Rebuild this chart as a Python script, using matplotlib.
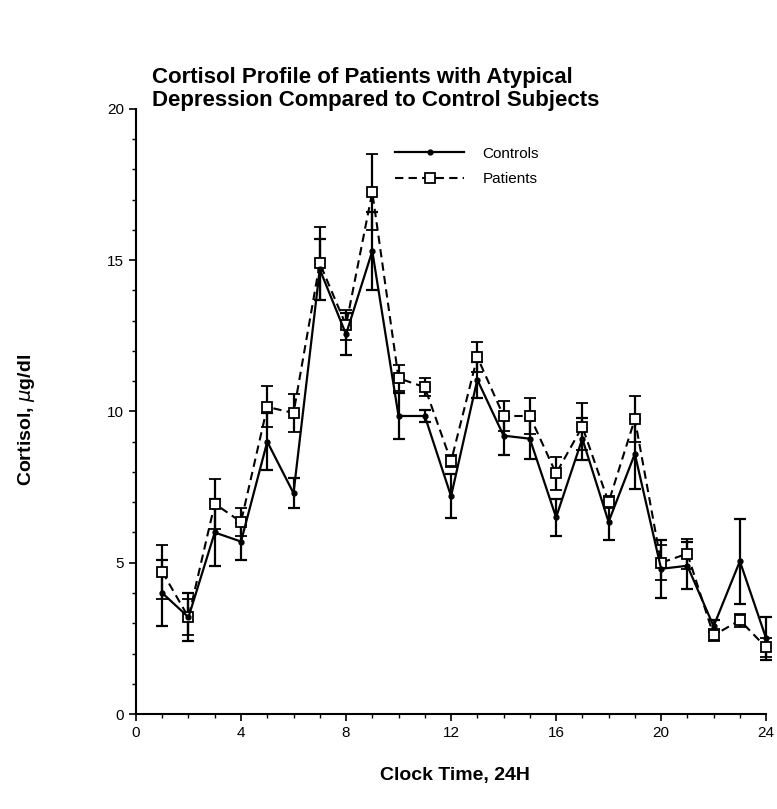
import matplotlib
matplotlib.use('Agg')
import matplotlib.pyplot as plt
from matplotlib.lines import Line2D
from matplotlib.ticker import MultipleLocator

# Hourly cortisol means and error bars (ug/dl)
hours = list(range(1, 25))
controls = [4.0, 3.2, 6.0, 5.7, 9.0, 7.3, 14.7, 12.55, 15.3, 9.85, 9.85, 7.2,
            11.05, 9.2, 9.1, 6.5, 9.1, 6.35, 8.6, 4.8, 4.9, 2.9, 5.05, 2.5]
controls_err = [1.08, 0.8, 1.1, 0.6, 0.95, 0.5, 1.0, 0.7, 1.3, 0.77, 0.2, 0.72,
                0.6, 0.63, 0.66, 0.6, 0.7, 0.6, 1.15, 0.96, 0.77, 0.2, 1.4, 0.7]
patients = [4.7, 3.2, 6.95, 6.35, 10.15, 9.95, 14.9, 12.85, 17.25, 11.1, 10.8, 8.35,
            11.8, 9.85, 9.85, 7.95, 9.5, 7.0, 9.75, 5.0, 5.3, 2.6, 3.1, 2.2]
patients_err = [0.9, 0.6, 0.83, 0.47, 0.68, 0.62, 1.2, 0.5, 1.25, 0.42, 0.3, 0.2,
                0.5, 0.5, 0.6, 0.55, 0.77, 0.2, 0.77, 0.58, 0.5, 0.2, 0.22, 0.3]

plt.rcParams['font.family'] = ['Liberation Sans', 'DejaVu Sans']

fig = plt.figure(figsize=(7.77, 8.09), dpi=100)
ax = fig.add_axes([0.175, 0.1174, 0.811, 0.748])

pat_style = dict(color='black', lw=1.5, dashes=(4, 2.5), marker='s', ms=7,
                 mfc='white', mec='black', mew=1.3)
ctl_style = dict(color='black', lw=1.6, marker='o', ms=3.5, mfc='black', mec='black')

for y, err, style in [(patients, patients_err, pat_style), (controls, controls_err, ctl_style)]:
    container = ax.errorbar(hours, y, yerr=err, ecolor='black', elinewidth=1.6,
                            capsize=4, capthick=1.6, **style)
    container.lines[0].set_clip_on(False)
    for artist in container.lines[1] + container.lines[2]:
        artist.set_clip_on(False)

ax.set_xlim(0, 24)
ax.set_ylim(0, 20)
ax.xaxis.set_major_locator(MultipleLocator(4))
ax.xaxis.set_minor_locator(MultipleLocator(1))
ax.yaxis.set_major_locator(MultipleLocator(5))
ax.yaxis.set_minor_locator(MultipleLocator(1))
ax.tick_params(which='major', direction='out', length=5, width=1.2, labelsize=11)
ax.tick_params(which='minor', direction='out', length=3, width=1)
ax.spines['top'].set_visible(False)
ax.spines['right'].set_visible(False)
ax.spines['left'].set_linewidth(1.5)
ax.spines['bottom'].set_linewidth(1.5)

handles = [Line2D([], [], **ctl_style), Line2D([], [], **pat_style)]
ax.legend(handles, ['Controls', 'Patients'], loc='upper left', bbox_to_anchor=(0.39, 0.96),
          frameon=False, handlelength=4.5, fontsize=11, labelspacing=0.75,
          handletextpad=1.2, numpoints=1)

fig.text(0.196, 0.917, 'Cortisol Profile of Patients with Atypical\n'
         'Depression Compared to Control Subjects',
         ha='left', va='top', fontsize=16, fontweight='bold', linespacing=1.14)
fig.text(0.034, 0.481, r'Cortisol, $\mu$g/dl', rotation=90, ha='center', va='center',
         fontsize=14, fontweight='bold')
fig.text(0.586, 0.042, 'Clock Time, 24H', ha='center', va='center',
         fontsize=14, fontweight='bold')

fig.savefig('out.png', dpi=100, facecolor='white')
